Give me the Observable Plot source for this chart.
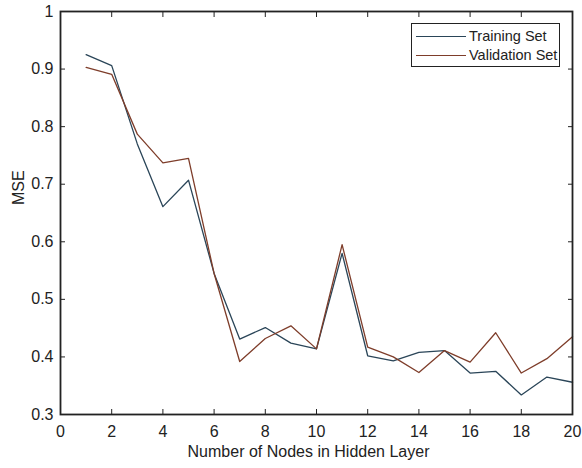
<!DOCTYPE html>
<html>
<head>
<meta charset="utf-8">
<script src="https://cdn.jsdelivr.net/npm/d3@7"></script>
<script src="https://cdn.jsdelivr.net/npm/@observablehq/plot@0.6"></script>
<style>
  html, body { margin: 0; padding: 0; background: #fff; }
  #wrap { position: relative; width: 582px; height: 468px; font-family: "Liberation Sans", Arial, sans-serif; overflow: hidden; }
  #legend { position: absolute; left: 411px; top: 23px; width: 149px; height: 44px; border: 1.4px solid #222; background: #fff; box-sizing: border-box; font-size: 14.5px; color: #222; }
  .row { position: absolute; left: 4px; height: 16px; display: flex; align-items: center; }
  .sw { width: 50px; height: 0; border-top: 1.3px solid; margin-right: 3px; }
</style>
</head>
<body>
<div id="wrap">
  <div id="chart"></div>
  <div id="legend"></div>
</div>
<script>
const nodes = [1,2,3,4,5,6,7,8,9,10,11,12,13,14,15,16,17,18,19,20];
const training = [0.925,0.906,0.770,0.661,0.707,0.545,0.431,0.451,0.424,0.414,0.580,0.402,0.393,0.408,0.411,0.372,0.375,0.334,0.365,0.356];
const validation = [0.903,0.891,0.787,0.737,0.745,0.545,0.392,0.432,0.454,0.414,0.595,0.417,0.400,0.373,0.411,0.391,0.442,0.372,0.397,0.435];
const seriesNames = ["Training Set", "Validation Set"];
const seriesColors = ["#2a4558", "#7e3d2a"];
const xTicks = [0,2,4,6,8,10,12,14,16,18,20];
const yTicks = [0.3,0.4,0.5,0.6,0.7,0.8,0.9,1];
const xTitle = "Number of Nodes in Hidden Layer";
const yTitle = "MSE";

const rows = [];
nodes.forEach((n, i) => {
  rows.push({nodes: n, mse: training[i], series: seriesNames[0]});
  rows.push({nodes: n, mse: validation[i], series: seriesNames[1]});
});

const fmtY = d => String(+d.toFixed(1));
const axisColor = "#222";

const chart = Plot.plot({
  width: 582,
  height: 468,
  marginLeft: 60,
  marginRight: 10,
  marginTop: 11,
  marginBottom: 54,
  x: {domain: [0, 20]},
  y: {domain: [0.3, 1]},
  color: {domain: seriesNames, range: seriesColors},
  style: {fontFamily: "'Liberation Sans', Arial, sans-serif", fontSize: "16px", color: axisColor, background: "#fff", overflow: "visible"},
  marks: [
    // tick labels
    Plot.axisX(xTicks, {anchor: "bottom", tickSize: 0, tickPadding: 11, fontSize: 16, label: null}),
    Plot.axisY(yTicks, {anchor: "left", tickSize: 0, tickPadding: 7, fontSize: 16, tickFormat: fmtY, label: null}),
    // axis titles
    Plot.text([xTitle], {text: d => d, frameAnchor: "bottom", dy: 42, dx: -8, fontSize: 16, fill: axisColor}),
    Plot.text([yTitle], {text: d => d, frameAnchor: "left", rotate: -90, dx: -42, dy: -8, fontSize: 16, fill: axisColor}),
    // inward ticks on all four sides
    Plot.axisX(xTicks, {anchor: "bottom", tickSize: 5, dy: -5, tickFormat: () => "", label: null, stroke: axisColor}),
    Plot.axisX(xTicks, {anchor: "top", tickSize: 5, dy: 5, tickFormat: () => "", label: null, stroke: axisColor}),
    Plot.axisY(yTicks, {anchor: "left", tickSize: 5, dx: 5, tickFormat: () => "", label: null, stroke: axisColor}),
    Plot.axisY(yTicks, {anchor: "right", tickSize: 5, dx: -5, tickFormat: () => "", label: null, stroke: axisColor}),
    Plot.line(rows, {x: "nodes", y: "mse", z: "series", stroke: "series", strokeWidth: 1.3}),
    Plot.frame({stroke: axisColor, strokeWidth: 1.8})
  ]
});
document.getElementById("chart").appendChild(chart);

const legend = document.getElementById("legend");
seriesNames.forEach((name, i) => {
  const r = document.createElement("div");
  r.className = "row";
  r.style.top = (4 + i * 19) + "px";
  const sw = document.createElement("span");
  sw.className = "sw";
  sw.style.borderColor = seriesColors[i];
  const t = document.createElement("span");
  t.textContent = name;
  r.appendChild(sw); r.appendChild(t);
  legend.appendChild(r);
});
</script>
</body>
</html>
